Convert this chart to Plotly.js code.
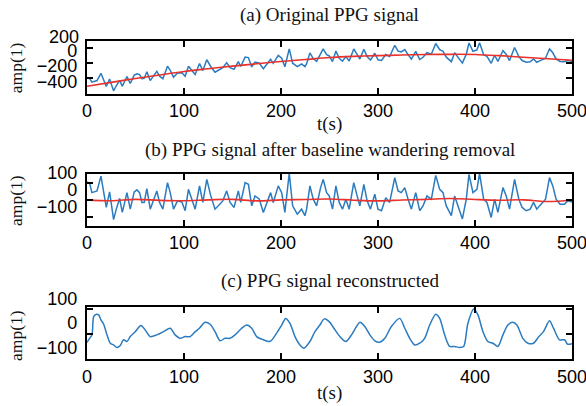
<!DOCTYPE html>
<html>
<head>
<meta charset="utf-8">
<script src="https://cdn.plot.ly/plotly-3.0.1.min.js"></script>
<style>html,body{margin:0;padding:0;background:#fff;}#chart{width:586px;height:406px;}</style>
</head>
<body>
<div id="chart"></div>
<script>
// ---- data ----
var t = [0, 2.7, 5.1, 10.3, 14.4, 17.8, 19.9, 23.3, 27.4, 30.2,
  33.6, 36.4, 41.2, 44.6, 48.7, 51.5, 54.2, 56.6, 59, 61.7,
  65.2, 67.9, 72, 74.8, 78.2, 83, 85.8, 89.2, 93.3, 97.8,
  101.2, 104.6, 107, 111.5, 116, 119.4, 123.5, 127.6, 132, 135.5,
  140, 144, 147.5, 151.6, 156, 158.5, 163, 166.4, 169.8, 173.2,
  177.7, 181.8, 185.2, 189.3, 192, 197.2, 200.7, 204, 208.5, 212,
  216.8, 221.2, 224.7, 226.4, 229.8, 233.2, 236.7, 240.8, 243.5, 247,
  249.7, 253.1, 256.6, 260, 263.4, 266.9, 270.3, 275, 278.5, 281.3,
  285.4, 288.8, 292.2, 296.7, 300, 303.6, 308, 312, 317.3, 320.7,
  324, 327.6, 331, 334.4, 338.9, 343, 346.4, 350.5, 355, 359.5,
  363.6, 367, 370.4, 375.6, 379, 382.4, 387, 391, 393.8, 397.9,
  402, 404.7, 408.9, 412.3, 416.7, 420.2, 423.6, 428.8, 432.2, 435.6,
  440.8, 445.2, 448.6, 452.8, 456.9, 460.3, 463.7, 466.5, 472.7, 476.8,
  480.2, 483.6, 487.7, 492.2, 495.6, 500];

var originalPPG = [-396, -399, -448, -427, -333, -451, -504, -407, -560, -494,
  -425, -500, -376, -465, -357, -339, -350, -403, -399, -314,
  -427, -380, -308, -370, -403, -241, -294, -383, -328, -326,
  -371, -243, -277, -348, -207, -298, -158, -248, -319, -295,
  -260, -196, -259, -282, -181, -245, -124, -130, -251, -189,
  -203, -275, -213, -151, -205, -102, -137, -249, -17, -203,
  -246, -213, -247, -208, -69, -143, -178, -68, -18, -91,
  -107, -182, -46, -140, -177, -118, -174, -18, -93, -149,
  -22, -117, -163, -74, -159, -167, -90, -116, 29, -47,
  -56, -26, -92, -149, -51, -155, -126, -67, -86, 52,
  -29, -48, -125, -182, -67, -125, -201, -86, 58, -48,
  -30, 61, -92, -114, -204, -100, -180, -39, -90, -169,
  0, -118, -168, -190, -185, -148, -190, -173, -139, -17,
  -68, -148, -180, -184, -168, -177];

var detrendedPPG = [104, 96, 42, 52, 138, 13, -44, 46, -115, -54,
  8, -73, 42, -54, 46, 58, 42, -15, -15, 65,
  -54, -12, 52, -15, -54, 100, 42, -54, -6, -12,
  -63, 61, 23, -54, 81, -15, 119, 23, -54, -35,
  -6, 52, -15, -44, 52, -15, 100, 90, -35, 23,
  4, -73, -15, 42, -15, 81, 42, -73, 155, -35,
  -83, -54, -92, -54, 81, 4, -35, 71, 119, 42,
  23, -54, 81, -15, -54, 4, -54, 100, 23, -35,
  90, -6, -54, 33, -54, -63, 13, -15, 129, 52,
  42, 71, 4, -54, 42, -63, -35, 23, 4, 142,
  61, 42, -35, -92, 23, -35, -111, 4, 148, 42,
  61, 154, 4, -15, -102, 4, -73, 71, 23, -54,
  119, 4, -44, -63, -54, -15, -54, -35, 4, 129,
  81, 4, -25, -25, -6, -12];

var tTrend = [0, 25, 50, 75, 100, 125, 150, 175, 200, 225, 250,
  275, 300, 325, 350, 375, 400, 425, 450, 475, 500];
var baselineA = [-500, -450, -400, -355, -310, -275, -240, -210, -180, -155, -130,
  -115, -105, -97, -90, -88, -90, -105, -125, -145, -165];
var baselineB = [0, -5, 3, -3, -5, 0, 3, -6, 0, 2, 5,
  -2, -6, -1, 3, 8, 2, -2, 0, -10, -2];

var tRec = [0, 2.7, 5.1, 6.9, 9.6, 12, 14.4, 17.2, 20.6, 24,
  27.4, 30.9, 34.3, 37.7, 41.2, 44.6, 49.7, 55.6, 60, 65.2,
  72, 78.9, 85.8, 90.9, 96, 101.2, 106.3, 111.5, 115.9, 121.8,
  126.9, 132, 137.2, 142.3, 147.5, 152.6, 159.5, 164.6, 169.8, 174.9,
  181.8, 188.6, 195.5, 200.7, 204.8, 209.2, 214.4, 219.5, 223.6, 229.8,
  235, 240.1, 244.6, 249.7, 254.5, 260.7, 266.9, 272.7, 277.8, 281.3,
  286.4, 291.6, 296.7, 301.8, 307, 313.8, 322.4, 327.6, 332.7, 337.9,
  343, 348.1, 353.3, 359.5, 363.6, 368.7, 373.9, 379, 384.2, 388.3,
  392.7, 398.6, 403, 408.2, 413.3, 418.5, 423.6, 428.8, 433.9, 439,
  443.2, 449.3, 454.5, 460.3, 465.8, 470.6, 476.8, 480.9, 487.1, 492.2,
  495.6, 500];
var reconstructed = [-34, -18, -4, 70, 80, 77, 57, 39, -4, -38,
  -45, -55, -47, -24, -31, -11, 9, 34, 16, -11,
  -4, 9, 23, -4, -18, -11, -11, 9, 23, 47,
  39, 9, -28, -18, -18, -4, 23, 36, 23, -11,
  -24, -31, 3, 36, 63, 43, -11, -45, -58, -31,
  9, 36, 61, 50, 23, -11, -31, -4, 30, 47,
  30, -4, -28, -34, -18, 30, 63, 23, -18, -45,
  -38, -18, 36, 80, 63, -4, -51, -51, -55, -51,
  43, 101, 77, 9, -31, -38, -51, -4, 36, 47,
  36, -18, -38, -38, -11, 9, 53, 23, -24, -24,
  -42, -40];

var xTicks = [0, 100, 200, 300, 400, 500];
var yTicksA = [-400, -200, 0];
var yTicksBC = [-100, 0, 100];

var titles = ['(a) Original PPG signal', '(b) PPG signal after baseline wandering removal', '(c) PPG signal reconstructed'];

// ---- styling ----
var BLUE = '#2a7bbf', RED = '#e8322b';
var tickFont = {family: 'Liberation Sans, Arial, sans-serif', size: 18, color: '#000'};
var serif = 'Liberation Serif, Times New Roman, serif';

function xax(anchor) {
  return {anchor: anchor, range: [0, 500], tickvals: xTicks, ticks: 'inside', ticklen: 6, tickwidth: 2,
    tickcolor: '#000', showline: true, linewidth: 2.2, linecolor: '#000', mirror: 'ticks',
    showgrid: false, zeroline: false, tickfont: tickFont, ticklabeloverflow: 'allow', fixedrange: true};
}
function yax(anchor, dom, range, vals, shift) {
  return {anchor: anchor, domain: dom, range: range, tickvals: vals, ticks: 'inside', ticklen: 6, tickwidth: 2,
    tickcolor: '#000', showline: true, linewidth: 2.2, linecolor: '#000', mirror: 'ticks',
    showgrid: false, zeroline: false, tickfont: tickFont, ticklabelshift: shift, ticklabelstandoff: 4,
    ticklabeloverflow: 'allow', fixedrange: true};
}

var data = [
  {x: t, y: originalPPG, xaxis: 'x', yaxis: 'y', mode: 'lines', line: {color: BLUE, width: 1.5}},
  {x: tTrend, y: baselineA, xaxis: 'x', yaxis: 'y', mode: 'lines', line: {color: RED, width: 1.6, shape: 'spline'}},
  {x: t, y: detrendedPPG, xaxis: 'x2', yaxis: 'y2', mode: 'lines', line: {color: BLUE, width: 1.5}},
  {x: tTrend, y: baselineB, xaxis: 'x2', yaxis: 'y2', mode: 'lines', line: {color: RED, width: 1.6, shape: 'spline'}},
  {x: tRec, y: reconstructed, xaxis: 'x3', yaxis: 'y3', mode: 'lines', line: {color: BLUE, width: 1.5, shape: 'spline', smoothing: 0.8}}
];

function ann(text, x, y, size, extra) {
  var a = {text: text, xref: 'paper', yref: 'paper', x: x, y: y, showarrow: false,
    xanchor: 'center', yanchor: 'middle', font: {family: serif, size: size, color: '#111'}};
  for (var k in extra) a[k] = extra[k];
  return a;
}

var layout = {
  width: 586, height: 406,
  margin: {l: 87, r: 14, t: 0, b: 0},
  paper_bgcolor: '#fff', plot_bgcolor: '#fff',
  showlegend: false,
  xaxis: xax('y'), xaxis2: xax('y2'), xaxis3: xax('y3'),
  yaxis: yax('x', [0.7697, 0.899], [-594, 84], yTicksA, 3),
  yaxis2: yax('x2', [0.4441, 0.5714], [-150, 150], yTicksBC, -10),
  yaxis3: yax('x3', [0.1158, 0.2431], [-102, 108], yTicksBC, -11),
  annotations: [
    ann(titles[0], 0.5, 0.963, 19),
    ann(titles[1], 0.5, 0.6305, 19),
    ann(titles[2], 0.5, 0.3079, 19),
    ann('t(s)', 0.5, 0.6946, 19),
    ann('t(s)', 0.5, 0.032, 19),
    ann('amp(1)', -0.1464, 0.8344, 17.5, {textangle: -90}),
    ann('amp(1)', -0.1464, 0.5074, 17.5, {textangle: -90}),
    ann('amp(1)', -0.1464, 0.1749, 17.5, {textangle: -90}),
    {text: '200', xref: 'paper', yref: 'paper', x: 0, y: 0.908, xanchor: 'right', yanchor: 'middle',
      xshift: -6, showarrow: false, font: tickFont}
  ]
};

Plotly.newPlot('chart', data, layout, {staticPlot: true, displayModeBar: false});
</script>
</body>
</html>
